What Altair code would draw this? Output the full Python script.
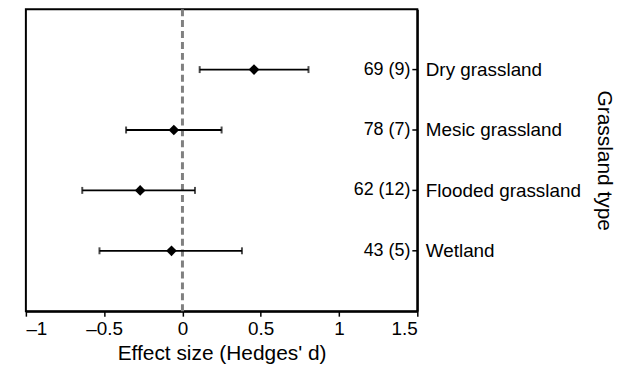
import altair as alt
import pandas as pd

categories = ["Dry grassland", "Mesic grassland", "Flooded grassland", "Wetland"]
effect = [0.457, -0.055, -0.27, -0.07]
ci_low = [0.11, -0.36, -0.64, -0.53]
ci_high = [0.805, 0.25, 0.08, 0.38]
counts = ["69 (9)", "78 (7)", "62 (12)", "43 (5)"]
x_ticks = [-1, -0.5, 0, 0.5, 1, 1.5]
ref_line = [0]
x_domain = [-1, 1.5]

df = pd.DataFrame({
    "cat": categories, "d": effect, "lo": ci_low, "hi": ci_high, "n": counts,
    "xmax": [x_domain[1]] * len(categories),
})
ref = pd.DataFrame({"x": ref_line})

FONT = "Liberation Sans"

xscale = alt.Scale(domain=x_domain, nice=False, zero=False)
yscale = alt.Scale(type="point", padding=1, domain=categories)

x_enc = alt.X("d:Q", scale=xscale,
              axis=alt.Axis(values=x_ticks, title="Effect size (Hedges' d)", format="~g",
                            grid=False, labelExpr="replace(datum.label, '−', '–')"))
y_enc = alt.Y("cat:N", scale=yscale, sort=categories,
              axis=alt.Axis(orient="right", title="Grassland type", ticks=False,
                            labelPadding=8, grid=False))

base = alt.Chart(df)

refline = alt.Chart(ref).mark_rule(color="#808080", strokeWidth=3, strokeDash=[7, 4]).encode(
    x=alt.X("x:Q", scale=xscale)
)

bars = base.mark_rule(color="black", strokeWidth=1.8).encode(
    x=alt.X("lo:Q", scale=xscale), x2="hi:Q", y=y_enc
)
cap_lo = base.mark_tick(color="black", size=7, thickness=2).encode(
    x=alt.X("lo:Q", scale=xscale), y=alt.Y("cat:N", scale=yscale, sort=categories)
)
cap_hi = base.mark_tick(color="black", size=7, thickness=2).encode(
    x=alt.X("hi:Q", scale=xscale), y=alt.Y("cat:N", scale=yscale, sort=categories)
)
points = base.mark_point(shape="diamond", filled=True, color="black", size=115, opacity=1).encode(
    x=x_enc, y=alt.Y("cat:N", scale=yscale, sort=categories)
)
inner_ticks = base.mark_rule(color="black", strokeWidth=1.5, xOffset=-5).encode(
    x=alt.X("xmax:Q", scale=xscale), x2="xmax:Q", y=alt.Y("cat:N", scale=yscale, sort=categories)
)
labels = base.mark_text(align="right", baseline="middle", dx=-7, fontSize=18, font=FONT,
                        color="black").encode(
    x=alt.X("xmax:Q", scale=xscale), y=alt.Y("cat:N", scale=yscale, sort=categories), text="n:N"
)

chart = alt.layer(refline, bars, cap_lo, cap_hi, points, inner_ticks, labels).properties(
    width=394, height=304,
    autosize=alt.AutoSizeParams(type="none"),
    padding={"left": 18, "top": 0, "right": 200, "bottom": 60},
).configure_view(
    stroke="black", strokeWidth=2
).configure_axis(
    labelFont=FONT, titleFont=FONT, labelColor="black", titleColor="black",
    domainColor="black", domainWidth=2, tickColor="black", tickWidth=1.5,
    tickSize=5, titleFontWeight="normal", grid=False
).configure_axisX(
    labelFontSize=19, titleFontSize=21, labelPadding=3, titlePadding=5
).configure_axisY(
    labelFontSize=19, titleFontSize=21, titlePadding=13
)

chart.save("out.html", embed_options={"renderer": "svg", "actions": False})
